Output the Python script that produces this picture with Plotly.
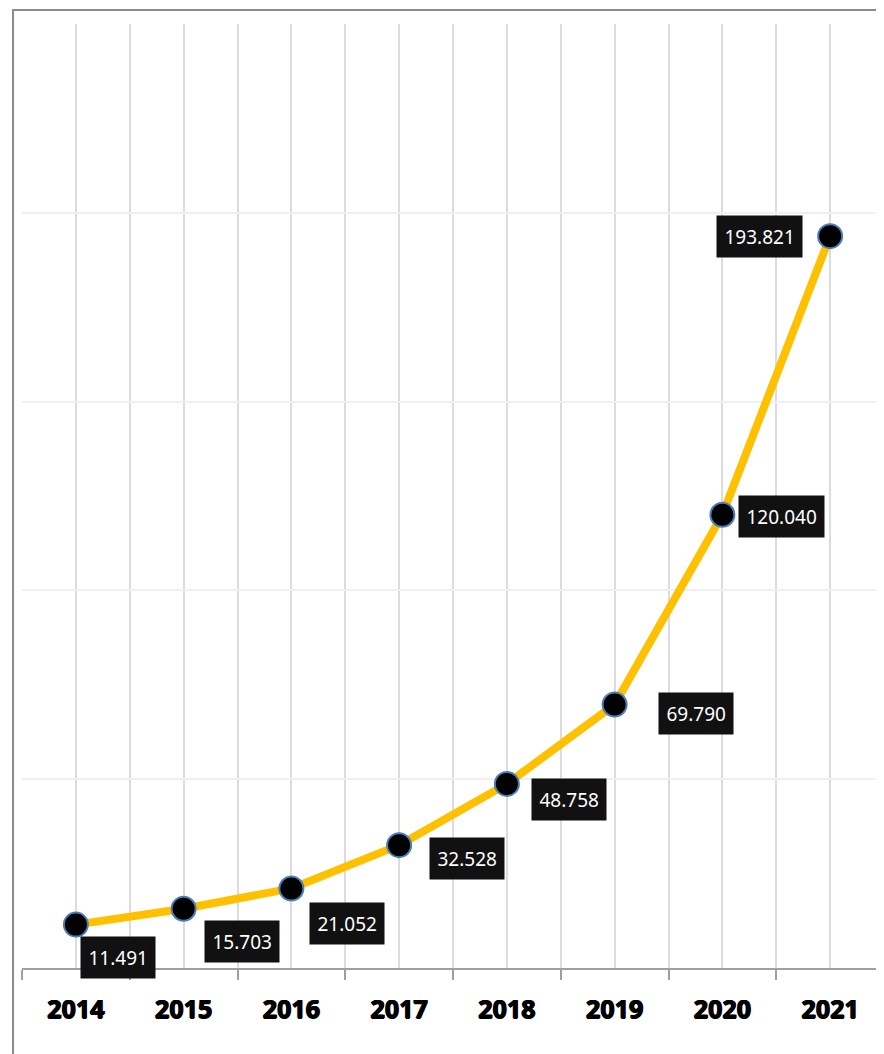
import plotly.graph_objects as go

years = ["2014", "2015", "2016", "2017", "2018", "2019", "2020", "2021"]
values = [11.491, 15.703, 21.052, 32.528, 48.758, 69.790, 120.040, 193.821]
labels = ["11.491", "15.703", "21.052", "32.528", "48.758", "69.790", "120.040", "193.821"]

# label offsets from point (pixels): right, down
label_dx = [42, 58, 56, 68, 62, 81, 59, -71]
label_dy = [33, 33, 35, 13, 16, 9, 2, 0]

xpos = list(range(len(years)))

fig = go.Figure()
fig.add_trace(go.Scatter(
    x=xpos, y=values, mode="lines+markers",
    line=dict(color="#FFC000", width=8),
    marker=dict(size=24, color="#000000", line=dict(color="#4a7ebb", width=2)),
    hoverinfo="skip", showlegend=False,
))

for x, v, t, dx, dy in zip(xpos, values, labels, label_dx, label_dy):
    fig.add_annotation(
        x=x, y=v, text=t, showarrow=False,
        xanchor="center", yanchor="middle",
        xshift=dx, yshift=-dy,
        font=dict(family="Noto Sans, Open Sans, sans-serif", size=19, color="#ffffff"),
        bgcolor="#111111", borderpad=7.5,
    )

fig.add_shape(type="rect", xref="paper", yref="paper",
              x0=-0.0104, x1=1.2, y0=-0.3, y1=1.0148,
              line=dict(color="#8c8c8c", width=2), fillcolor="rgba(0,0,0,0)", layer="below")

bounds = [i - 0.5 for i in range(len(years) + 1)]

fig.update_layout(
    width=876, height=1046,
    margin=dict(l=14, r=0, t=16, b=86),
    paper_bgcolor="#ffffff", plot_bgcolor="#ffffff",
    xaxis=dict(
        range=[-0.5, len(years) - 0.5],
        tickvals=xpos, ticktext=years,
        showgrid=True, gridcolor="#dcdcdc", gridwidth=2,
        ticks="outside", ticklen=18, tickcolor="rgba(0,0,0,0)",
        tickfont=dict(family="Noto Sans, Open Sans, sans-serif", size=25, color="#000000", weight="bold",
                      shadow="0.7px 0 0 #000, -0.7px 0 0 #000, 0 0.5px 0 #000"),
        showline=True, linecolor="#a0a0a0", linewidth=2,
        zeroline=False,
        minor=dict(tickvals=bounds, ticks="outside", ticklen=10, tickcolor="#a0a0a0", tickwidth=2,
                   showgrid=True, gridcolor="#dcdcdc", gridwidth=2),
        fixedrange=True,
    ),
    yaxis=dict(
        range=[0, 250], tickvals=[0, 50, 100, 150, 200, 250],
        showticklabels=False, showgrid=True, gridcolor="#f0f0f0", gridwidth=2,
        zeroline=False, showline=False, fixedrange=True,
    ),
)

fig.write_html("out.html")
